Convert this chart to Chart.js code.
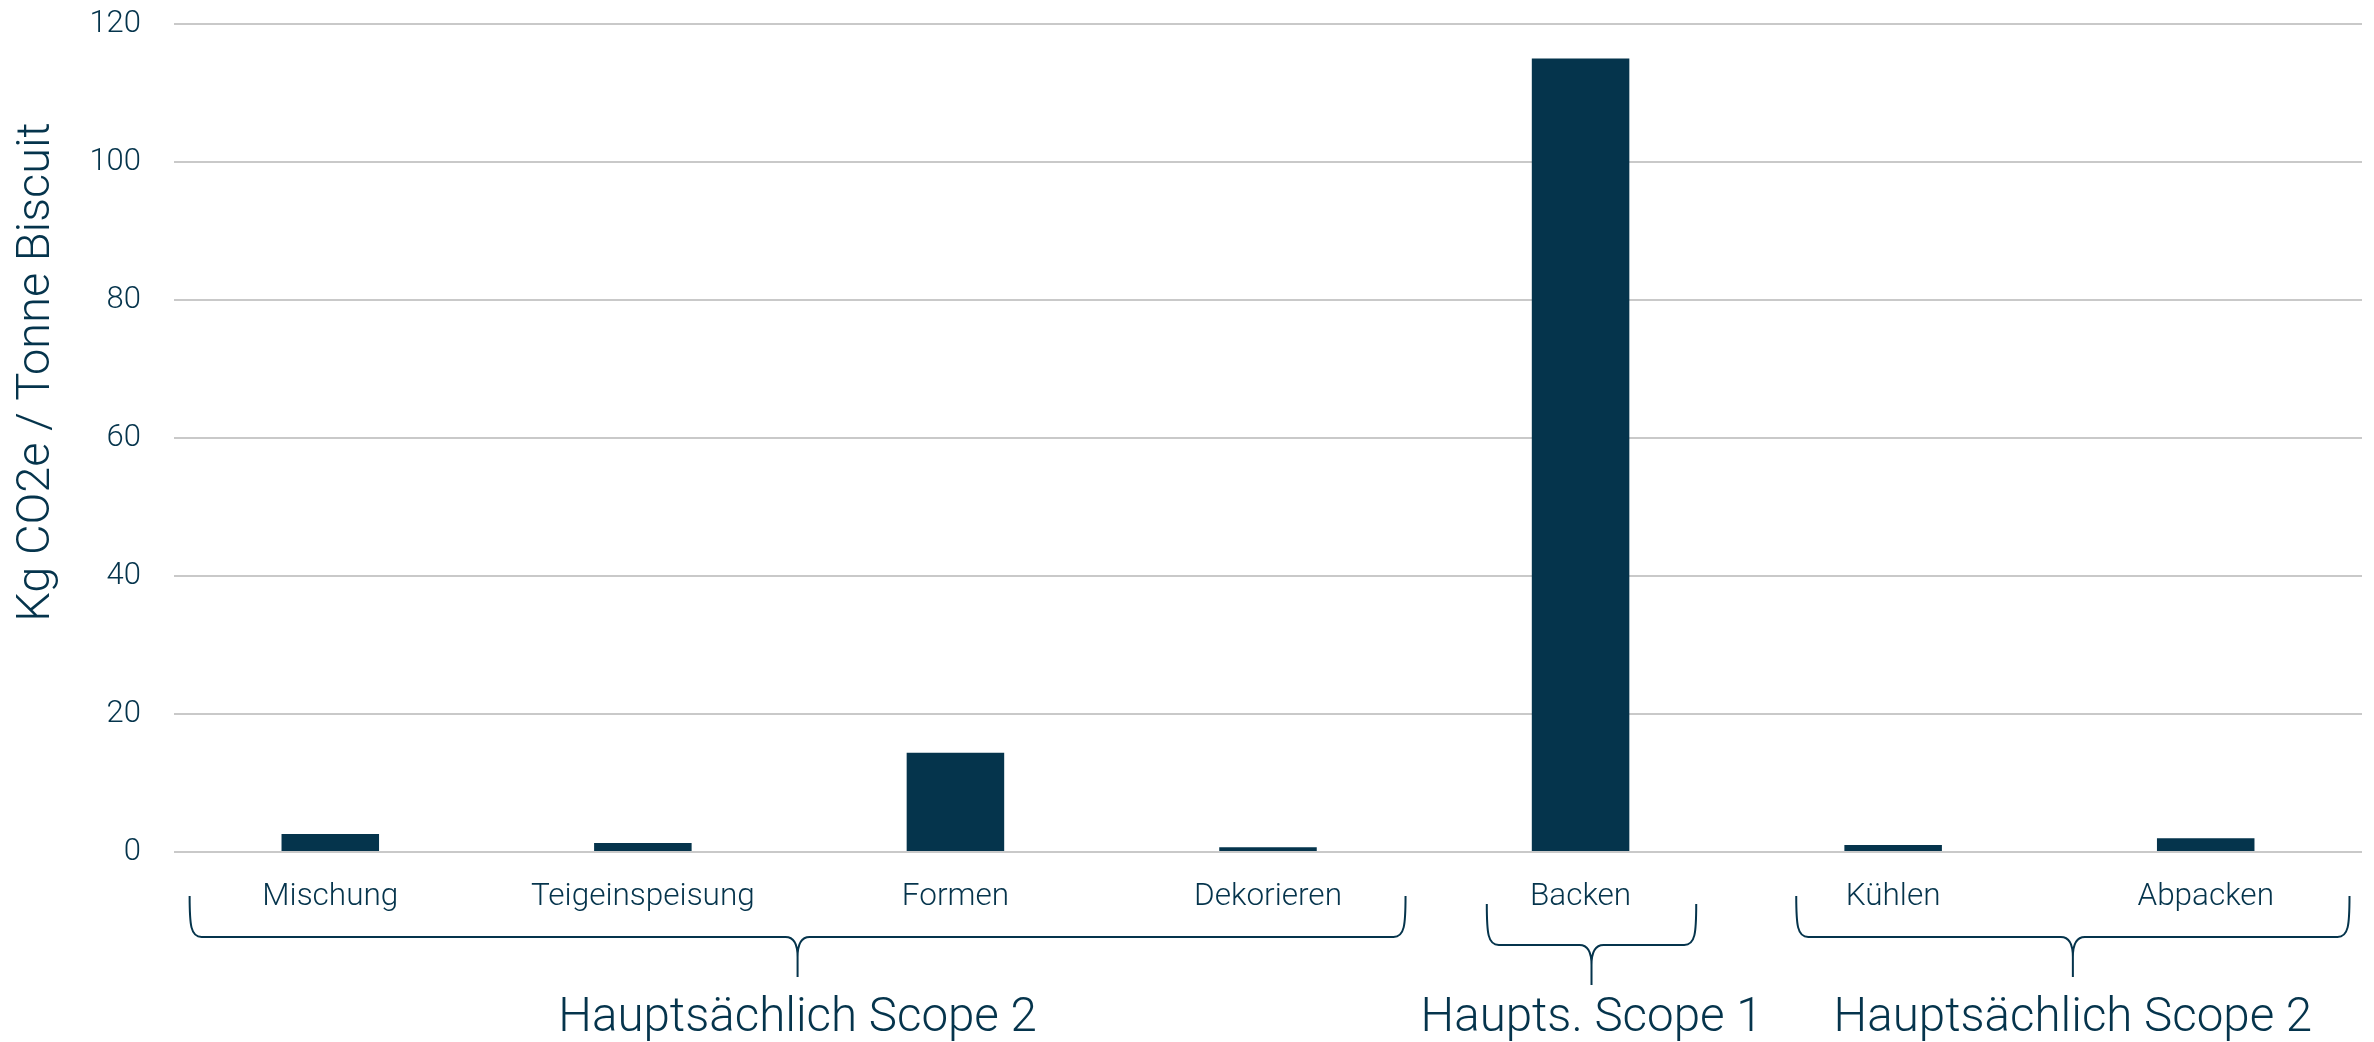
<!DOCTYPE html>
<html>
<head>
<meta charset="utf-8">
<script src="https://cdn.jsdelivr.net/npm/chart.js@4/dist/chart.umd.min.js"></script>
<style>
  html, body { margin: 0; padding: 0; background: #fff; }
  #wrap { width: 2374px; height: 1042px; }
</style>
</head>
<body>
<div id="wrap"><canvas id="myChart" width="2374" height="1042"></canvas></div>
<script>
// data
const categories = ["Mischung", "Teigeinspeisung", "Formen", "Dekorieren", "Backen", "Kühlen", "Abpacken"];
const values = [2.6, 1.3, 14.4, 0.7, 115.0, 1.0, 2.0];
const yTicks = [0, 20, 40, 60, 80, 100, 120];
const yTitle = "Kg CO2e / Tonne Biscuit";
const groupLabels = ["Hauptsächlich Scope 2", "Haupts. Scope 1", "Hauptsächlich Scope 2"];
const groupFrom = [0, 4, 5];
const groupTo = [3, 4, 6];

const navy = "#05344c";
const font = "Roboto";

// draws the y title and the curly braces with group names under the axis
const bracesPlugin = {
	id: "braces",
	afterDraw(chart) {
		const ctx = chart.ctx;
		const x = chart.scales.x;
		const area = chart.chartArea;
		const half = (x.getPixelForValue(1) - x.getPixelForValue(0)) / 2;
		// per brace: left inset, right inset (category units), vertical shift
		const fit = [[0.05, 0.06, 0], [0.2, 0.13, 8], [0.19, 0.04, 0]];

		ctx.save();
		ctx.strokeStyle = navy;
		ctx.lineWidth = 2;
		ctx.fillStyle = navy;

		groupLabels.forEach((label, i) => {
			const xl = x.getPixelForValue(groupFrom[i]) - half + fit[i][0] * half * 2;
			const xr = x.getPixelForValue(groupTo[i]) + half - fit[i][1] * half * 2;
			const xt = (xl + xr) / 2;
			const top = area.bottom + 44 + fit[i][2];
			const mid = top + 41;
			const tip = mid + 40;

			ctx.beginPath();
			ctx.moveTo(xl, top);
			ctx.bezierCurveTo(xl, mid - 12, xl + 1, mid, xl + 12, mid);
			ctx.lineTo(xt - 12, mid);
			ctx.quadraticCurveTo(xt, mid, xt, mid + 20);
			ctx.lineTo(xt, tip);
			ctx.moveTo(xt, mid + 20);
			ctx.quadraticCurveTo(xt, mid, xt + 12, mid);
			ctx.lineTo(xr - 12, mid);
			ctx.bezierCurveTo(xr - 1, mid, xr, mid - 12, xr, top);
			ctx.stroke();

			ctx.font = "300 47.5px " + font;
			ctx.textAlign = "center";
			ctx.textBaseline = "alphabetic";
			ctx.fillText(label, xt, 1031);
		});

		// y axis title
		ctx.translate(37, 372);
		ctx.rotate(-Math.PI / 2);
		ctx.font = "300 47px " + font;
		ctx.textAlign = "center";
		ctx.textBaseline = "middle";
		ctx.fillText(yTitle, 0, 0);
		ctx.restore();
	}
};

const myChart = document.getElementById("myChart");

let barchart = new Chart(myChart, {
	type: 'bar',
	data: {
		labels: categories,
		datasets: [{
			label: yTitle,
			data: values,
			backgroundColor: navy,
			borderWidth: 0,
			categoryPercentage: 1,
			barPercentage: 0.312
		}]
	},
	options: {
		responsive: false,
		animation: false,
		layout: {
			padding: {top: 24, right: 12, bottom: 0, left: 0}
		},
		plugins: {
			legend: {display: false},
			tooltip: {enabled: false}
		},
		scales: {
			x: {
				grid: {display: false, drawTicks: false},
				border: {display: false},
				ticks: {
					color: navy,
					padding: 26,
					maxRotation: 0,
					font: {family: font, size: 31.5, weight: 300}
				},
				afterFit(scale) { scale.height = 190; }
			},
			y: {
				min: 0,
				max: 120,
				afterBuildTicks(scale) { scale.ticks = yTicks.map(v => ({value: v})); },
				grid: {color: "#c9c9c9", lineWidth: 2, drawTicks: false},
				border: {display: false},
				ticks: {
					color: navy,
					padding: 33,
					font: {family: font, size: 31, weight: 300}
				},
				afterFit(scale) {
					scale.width = 174;
					scale.paddingTop = 0;
				}
			}
		}
	},
	plugins: [bracesPlugin]
});
</script>
</body>
</html>
